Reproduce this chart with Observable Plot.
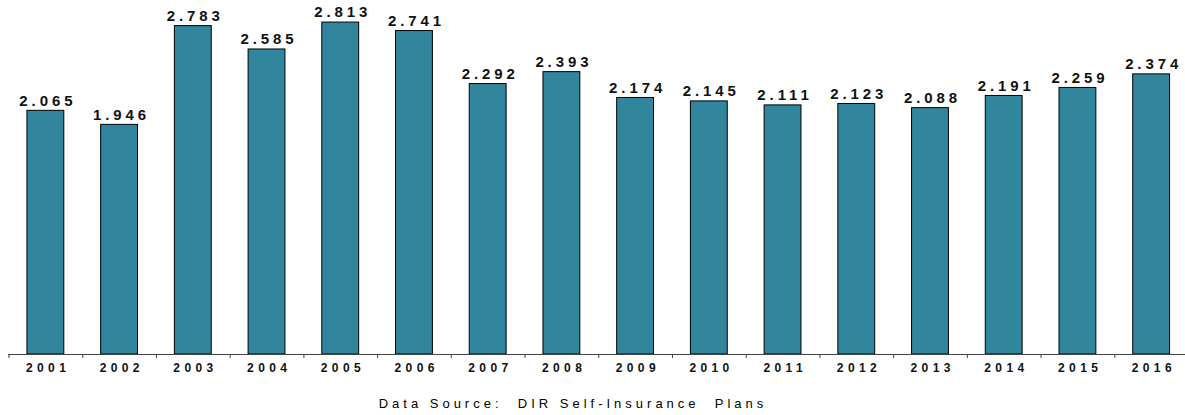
<!DOCTYPE html>
<html>
<head>
<meta charset="utf-8">
<script src="https://cdn.jsdelivr.net/npm/d3@7"></script>
<script src="https://cdn.jsdelivr.net/npm/@observablehq/plot@0.6"></script>
<style>
  html, body { margin: 0; padding: 0; background: #fff; }
  #wrap { position: relative; width: 1185px; height: 415px; font-family: "Liberation Sans", Arial, sans-serif; }
  #caption { position: absolute; left: 0; top: 396px; width: 1146px; text-align: center;
             font-size: 13px; letter-spacing: 4px; white-space: pre; color: #000; }
  svg { overflow: visible; }
  g[aria-label="text"] text { letter-spacing: 3.9px; }
  g[aria-label="x-axis tick label"] text { letter-spacing: 4.4px; }
</style>
</head>
<body>
<div id="wrap">
  <div id="chart"></div>
  <div id="caption">Data Source:  DIR Self-Insurance  Plans</div>
</div>
<script>
const years = ["2001","2002","2003","2004","2005","2006","2007","2008","2009","2010","2011","2012","2013","2014","2015","2016"];
const values = [2.065, 1.946, 2.783, 2.585, 2.813, 2.741, 2.292, 2.393, 2.174, 2.145, 2.111, 2.123, 2.088, 2.191, 2.259, 2.374];

const data = years.map((y, i) => ({year: y, value: values[i]}));

const W = 1185;
const xRange = [8.5, 1188];
const step = (xRange[1] - xRange[0]) / years.length;
const barColor = "#31859C";

const plot = Plot.plot({
  width: W,
  height: 380,
  marginTop: 0,
  marginBottom: 26,
  marginLeft: 8,
  marginRight: 0,
  style: {fontFamily: "Liberation Sans, Arial, sans-serif", background: "white", color: "#000"},
  x: {domain: years, range: xRange, round: false, paddingInner: 0.5, paddingOuter: 0.25, label: null},
  y: {domain: [0, 3], axis: null},
  marks: [
    Plot.barY(data, {x: "year", y: "value", fill: barColor, stroke: "#000", strokeWidth: 1}),
    Plot.text(data, {x: "year", y: "value", text: d => d.value.toFixed(3), dy: -10, dx: 2,
      fontSize: 15, fontWeight: "bold", fill: "#111"}),
    Plot.ruleY([0], {stroke: "#444", strokeWidth: 1}),
    Plot.axisX({tickSize: 0, tickPadding: 9, fontSize: 12, fontWeight: "bold", fill: "#111", dx: 2.2, label: null}),
    Plot.axisX({tickSize: 4, tickFormat: () => "", dx: -step / 2, stroke: "#444", label: null})
  ]
});
document.getElementById("chart").appendChild(plot);
</script>
</body>
</html>
